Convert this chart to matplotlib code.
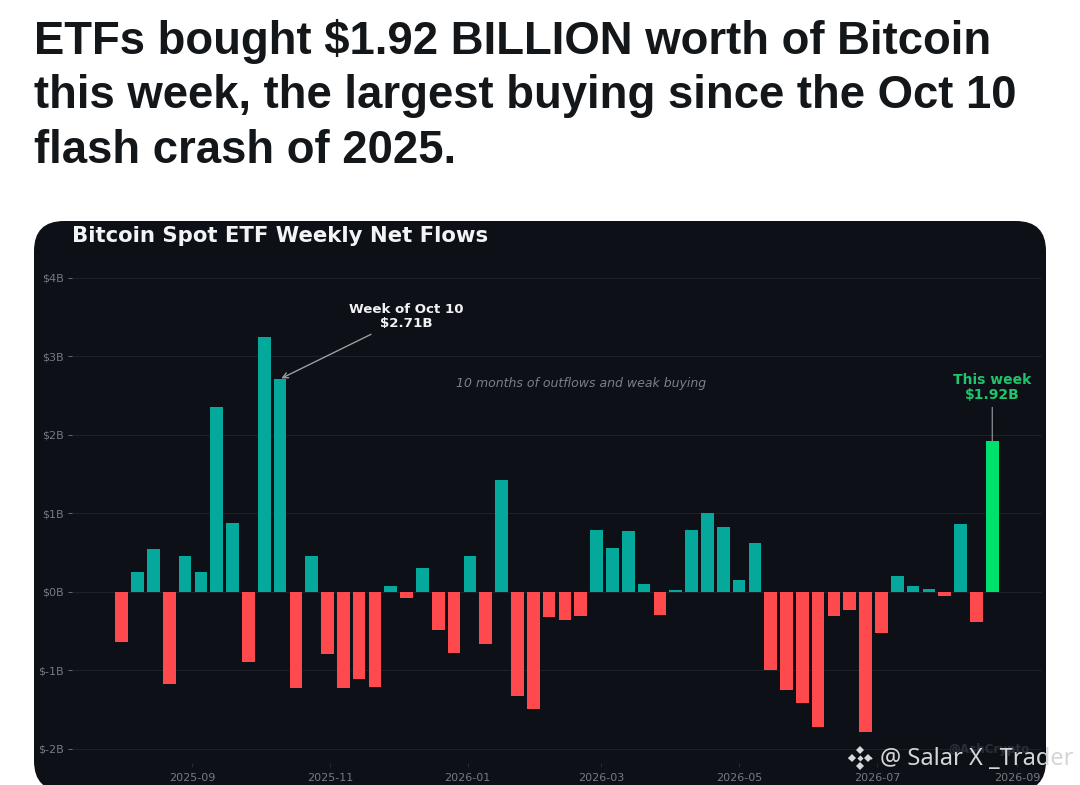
# -*- coding: utf-8 -*-
import matplotlib
matplotlib.use('Agg')
import matplotlib.pyplot as plt
import matplotlib.dates as mdates
import pandas as pd
from matplotlib.lines import Line2D
from matplotlib.patches import FancyBboxPatch
from matplotlib.transforms import IdentityTransform

W, H = 1080, 785

headline = ['ETFs bought $1.92 BILLION worth of Bitcoin',
            'this week, the largest buying since the Oct 10',
            'flash crash of 2025.']

# weekly net flows in $B
flows = [-0.64, 0.25, 0.55, -1.17, 0.45, 0.25, 2.35, 0.88, -0.90, 3.25,
         2.71, -1.23, 0.45, -0.79, -1.22, -1.11, -1.21, 0.07, -0.08, 0.30,
         -0.49, -0.78, 0.46, -0.67, 1.42, -1.33, -1.49, -0.32, -0.36, -0.31,
         0.79, 0.56, 0.77, 0.10, -0.29, 0.02, 0.79, 1.00, 0.83, 0.15,
         0.62, -1.00, -1.25, -1.41, -1.72, -0.31, -0.23, -1.79, -0.52, 0.20,
         0.08, 0.04, -0.05, 0.86, -0.39, 1.92]
weeks = pd.date_range('2025-08-01', periods=len(flows), freq='7D')

y_ticks = [-2, -1, 0, 1, 2, 3, 4]
y_labels = ['$-2B', '$-1B', '$0B', '$1B', '$2B', '$3B', '$4B']
x_ticks = ['2025-09-01', '2025-11-01', '2026-01-01', '2026-03-01',
           '2026-05-01', '2026-07-01', '2026-09-01']

BG = '#0d1117'
TEAL = '#04a99c'
RED = '#ff4a4d'
GREEN = '#00e06c'
GREY = '#777b81'

fig = plt.figure(figsize=(W / 100, H / 100), dpi=100, facecolor='white')

for i, line in enumerate(headline):
    fig.text(34 / W, 1 - (41 + 55 * i) / H, line, family='Liberation Sans', weight='bold',
             fontsize=32.8, color='#14171a', va='center', ha='left')

panel = FancyBboxPatch((34, -6), 1012, H - 221 + 6, boxstyle='round,pad=0,rounding_size=30',
                       transform=IdentityTransform(), facecolor=BG, edgecolor='none', zorder=-1)
fig.add_artist(panel)

ax = fig.add_axes([72 / W, 1 - 763 / H, (1042 - 72) / W, (763 - 262) / H])
ax.patch.set_visible(False)
for sp in ax.spines.values():
    sp.set_visible(False)

colors = [TEAL if v >= 0 else RED for v in flows]
colors[-1] = GREEN
ax.bar(weeks, flows, width=5.6, color=colors, zorder=3)

ax.set_xlim(pd.Timestamp('2025-07-10'), pd.Timestamp('2026-09-12'))
ax.set_ylim(-2.18, 4.2)
ax.set_yticks(y_ticks)
ax.set_yticklabels(y_labels)
ax.set_xticks(pd.to_datetime(x_ticks))
ax.xaxis.set_major_formatter(mdates.DateFormatter('%Y-%m'))
ax.tick_params(axis='y', labelsize=8, colors=GREY, length=3, width=0.6, pad=3)
ax.tick_params(axis='x', labelsize=8, colors=GREY, length=3, width=0.5, pad=4, color='#30353c')
ax.yaxis.grid(True, color='#1b2029', lw=0.8, zorder=0)
ax.axhline(0, color='#2b3038', lw=0.8, zorder=1)

for lab in ax.get_xticklabels():
    lab.set_clip_path(panel)

fig.text(72 / W, 1 - 236 / H, 'Bitcoin Spot ETF Weekly Net Flows', color='#f2f3f5',
         fontsize=15.35, weight='bold', va='center', ha='left')

oct_week = weeks[10]
ax.annotate('Week of Oct 10\n$2.71B', xy=(oct_week, flows[10]),
            xytext=(pd.Timestamp('2025-12-05'), 3.33), color='#f0f1f3', fontsize=9.6,
            weight='bold', ha='center', va='bottom', linespacing=1.1,
            arrowprops=dict(arrowstyle='->', color='#9a9ea3', lw=1, shrinkA=2, shrinkB=1))
ax.annotate('This week\n$1.92B', xy=(weeks[-1], flows[-1]),
            xytext=(weeks[-1], 2.42), color='#1fc46c', fontsize=10,
            weight='bold', ha='center', va='bottom', linespacing=1.1,
            arrowprops=dict(arrowstyle='-', color='#9a9ea3', lw=0.8, shrinkA=2, shrinkB=0))
ax.text(pd.Timestamp('2026-02-20'), 2.65, '10 months of outflows and weak buying',
        color='#7c8086', fontsize=9.0, style='italic', ha='center', va='center')

# watermarks sit on top of the image
fig.text(948 / W, 1 - 750 / H, '@AshCrypto', color='#2a2f37', fontsize=8.6, weight='bold',
         va='center', ha='left')
fig.text(880 / W, 1 - 759 / H, '@ Salar X _Trader', family='Noto Sans', color='#d4d5d7',
         fontsize=17, va='center', ha='left')
for dx, dy, s in [(0, -8, 7), (0, 8, 7), (-8, 0, 7), (8, 0, 7), (0, 0, 5), (-11, 0, 2), (11, 0, 2)]:
    fig.add_artist(Line2D([(860 + dx) / W], [1 - (758 + dy) / H], marker='D', ms=s * 0.62,
                          color='#d8d9db', mew=0, ls='none', transform=fig.transFigure))

fig.savefig('out.png', dpi=100, facecolor='white')
